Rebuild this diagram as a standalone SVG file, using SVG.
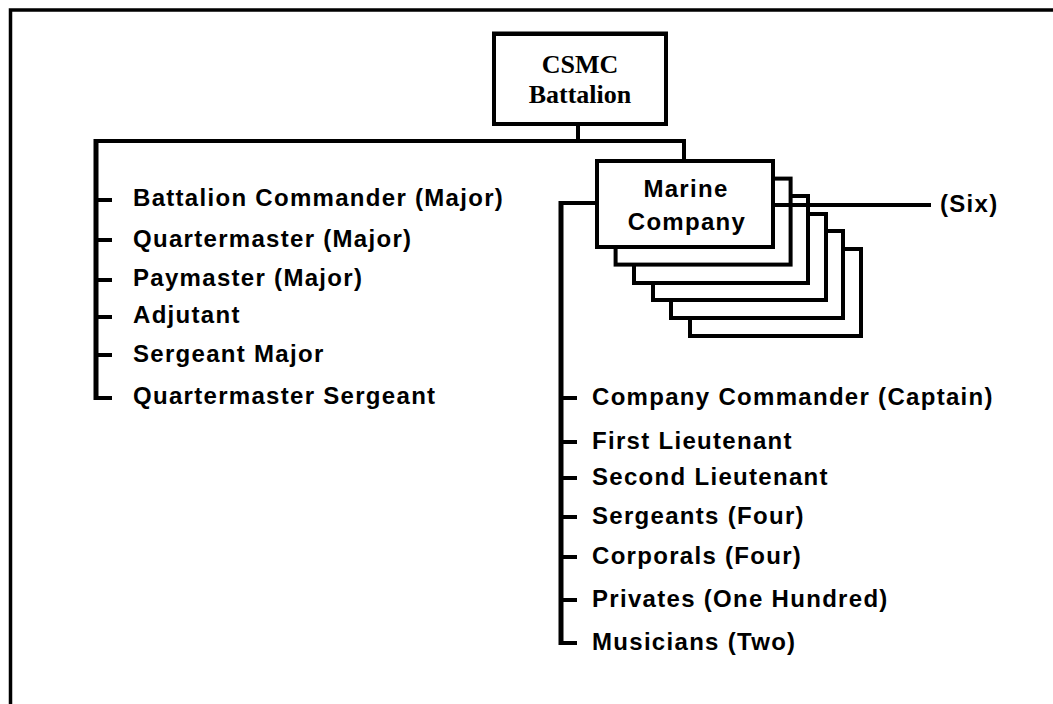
<svg xmlns="http://www.w3.org/2000/svg" width="1053" height="704" viewBox="0 0 1053 704">
<style>
.ln{stroke:#000;fill:none;stroke-linecap:square}
.bx{stroke:#000;stroke-width:4;fill:#fff}
.t{font-family:"Liberation Sans",Arial,sans-serif;font-weight:bold;font-size:24px;letter-spacing:1.3px;fill:#000}
.h{font-family:"Liberation Serif","Times New Roman",serif;font-weight:bold;font-size:26px;fill:#000}
</style>
<rect width="1053" height="704" fill="#fff"/>
<g id="frame">
<path class="ln" style="stroke-linecap:butt" stroke-width="3.5" d="M10.5 704 V10 H1053"/>
</g>
<g id="connectors">
<path class="ln" stroke-width="4" d="M578 126 V141 M96 141 H684 V159"/>
<path class="ln" stroke-width="5" style="stroke-linecap:butt" d="M96 139 V400"/>
<path class="ln" stroke-width="4" style="stroke-linecap:butt" d="M96 200 H112 M96 240 H112 M96 280 H112 M96 317 H112 M96 355 H112 M94 398 H112"/>
<path class="ln" stroke-width="4" style="stroke-linecap:butt" d="M559 203 H597"/>
<path class="ln" stroke-width="5" style="stroke-linecap:butt" d="M561 201 V645"/>
<path class="ln" stroke-width="4" style="stroke-linecap:butt" d="M561 398 H577 M561 442 H577 M561 478 H577 M561 517 H577 M561 557 H577 M561 600 H577 M559 643 H577"/>
</g>
<g id="csmc-battalion">
<rect class="bx" x="494" y="34" width="172" height="90"/>
<line x1="492" y1="32.5" x2="668" y2="32.5" stroke="#000" stroke-width="2"/>
<text class="h" x="580" y="73" text-anchor="middle">CSMC</text>
<text class="h" x="580" y="103" text-anchor="middle">Battalion</text>
</g>
<g id="marine-company">
<rect class="bx" x="690" y="249" width="171" height="87"/>
<rect class="bx" x="671" y="231" width="172" height="87"/>
<rect class="bx" x="653" y="214" width="173" height="86"/>
<rect class="bx" x="634" y="196" width="174" height="87"/>
<rect class="bx" x="615.6" y="178.6" width="175" height="86"/>
<path class="ln" stroke-width="4" style="stroke-linecap:butt" d="M775 205 H931"/>
<rect class="bx" x="597" y="161" width="176" height="86"/>
<text class="t" x="686" y="197" text-anchor="middle">Marine</text>
<text class="t" x="687" y="230" text-anchor="middle">Company</text>
<text class="t" x="940" y="212">(Six)</text>
</g>
<g id="battalion-staff">
<text class="t" x="133" y="206">Battalion Commander (Major)</text>
<text class="t" x="133" y="247">Quartermaster (Major)</text>
<text class="t" x="133" y="286">Paymaster (Major)</text>
<text class="t" x="133" y="323">Adjutant</text>
<text class="t" x="133" y="362">Sergeant Major</text>
<text class="t" x="133" y="404">Quartermaster Sergeant</text>
</g>
<g id="company-staff">
<text class="t" x="592" y="405">Company Commander (Captain)</text>
<text class="t" x="592" y="449">First Lieutenant</text>
<text class="t" x="592" y="485">Second Lieutenant</text>
<text class="t" x="592" y="524">Sergeants (Four)</text>
<text class="t" x="592" y="564">Corporals (Four)</text>
<text class="t" x="592" y="607">Privates (One Hundred)</text>
<text class="t" x="592" y="650">Musicians (Two)</text>
</g>
</svg>
